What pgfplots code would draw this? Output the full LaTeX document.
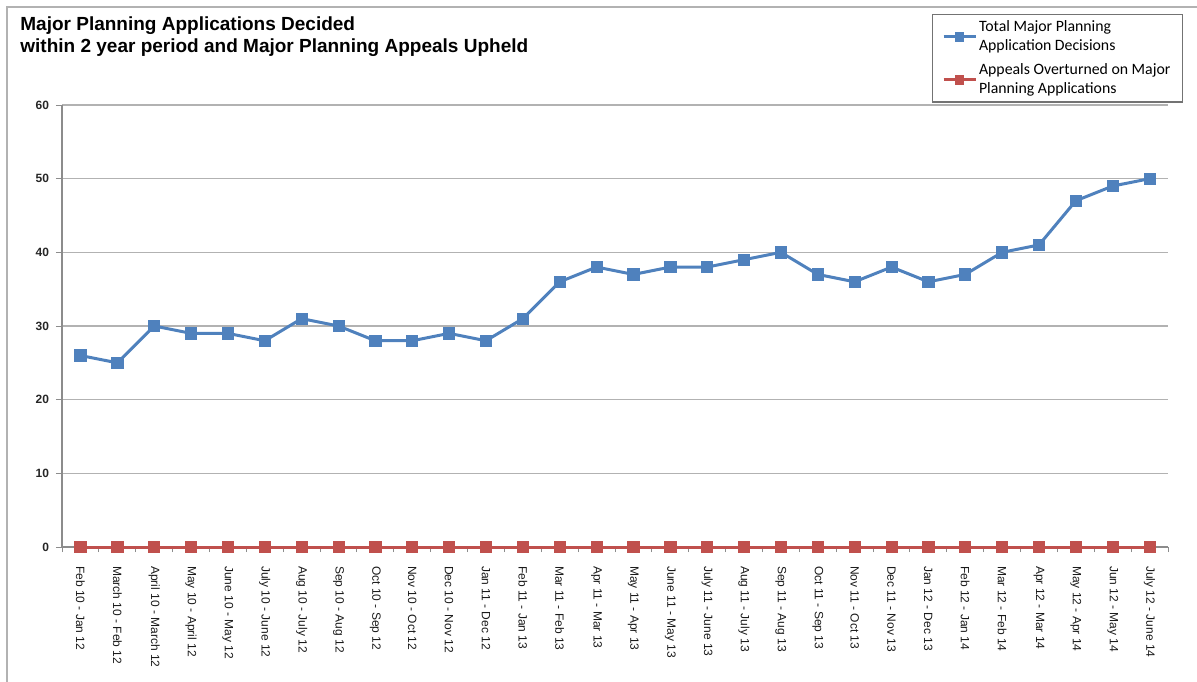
\documentclass[border=0pt]{standalone}
\usepackage{pgfplots}
\pgfplotsset{compat=1.18}
\usepackage{fontspec}
\setmainfont{Liberation Sans}
\newfontfamily\legfont{Carlito}
\definecolor{xlblue}{HTML}{4F81BD}
\definecolor{xlred}{HTML}{C0504D}
\begin{document}
\begin{tikzpicture}
\path[use as bounding box] (0pt,0pt) rectangle (598.5pt,340.5pt);
\draw[black!30, line width=0.9pt] (3.5pt,-5pt) rectangle (610pt,337pt);
\node[anchor=north west, align=left, font=\bfseries\fontsize{9.5}{11}\selectfont, inner sep=0pt] at (10pt,332.5pt)
  {Major Planning Applications Decided\\within 2 year period and Major Planning Appeals Upheld};
\begin{axis}[
  at={(31pt,67pt)}, anchor=south west,
  scale only axis, width=553pt, height=221pt,
  xmin=-0.5, xmax=29.5, ymin=0, ymax=60,
  clip=false,
  axis lines*=left,
  axis line style={black!45, line width=0.6pt},
  ytick={0,10,...,60},
  ymajorgrids, grid style={black!30, line width=0.7pt},
  tick align=outside, tick pos=left,
  major tick length=3pt, minor tick length=2.5pt,
  tick style={black!45, line width=0.5pt},
  xtick={0,...,29},
  major x tick style={draw=none},
  minor xtick={-0.5,0.5,...,29.5},
  xticklabels={Feb 10 - Jan 12, March 10 - Feb 12, April 10 - March 12, May 10 - April 12, June 10 - May 12, July 10 - June 12, Aug 10 - July 12, Sep 10 - Aug 12, Oct 10 - Sep 12, Nov 10 - Oct 12, Dec 10 - Nov 12, Jan 11 - Dec 12, Feb 11 - Jan 13, Mar 11 - Feb 13, Apr 11 - Mar 13, May 11 - Apr 13, June 11 - May 13, July 11 - June 13, Aug 11 - July 13, Sep 11 - Aug 13, Oct 11 - Sep 13, Nov 11 - Oct 13, Dec 11 - Nov 13, Jan 12 - Dec 13, Feb 12 - Jan 14, Mar 12 - Feb 14, Apr 12 - Mar 14, May 12 - Apr 14, Jun 12 - May 14, July 12 - June 14},
  xticklabel style={font=\fontsize{6}{7}\selectfont, rotate=-90, anchor=west, text=black!90},
  xticklabel shift=3pt,
  yticklabel style={font=\bfseries\fontsize{6}{7}\selectfont, text=black!85},
  /pgf/number format/assume math mode=true,
  legend style={at={(1.0136,1.2055)}, anchor=north east, draw=black!55, line width=0.6pt,
    font=\legfont\fontsize{7.9}{9.5}\selectfont, cells={align=left, anchor=west},
    inner xsep=5pt, inner ysep=0.8pt, row sep=1pt,
    nodes={inner xsep=1pt}},
  legend cell align=left,
  legend image code/.code={\draw[mark repeat=2,mark phase=2,mark size=2.1pt] plot coordinates {(0cm,0cm)(0.28cm,0cm)(0.56cm,0cm)};},
]
\addplot[xlblue, line width=1.5pt, mark=square*, mark size=2.8pt, mark options={solid, line width=0.4pt}] coordinates {
(0,26)(1,25)(2,30)(3,29)(4,29)(5,28)(6,31)(7,30)(8,28)(9,28)(10,29)(11,28)(12,31)(13,36)(14,38)(15,37)(16,38)(17,38)(18,39)(19,40)(20,37)(21,36)(22,38)(23,36)(24,37)(25,40)(26,41)(27,47)(28,49)(29,50)};
\addlegendentry{Total Major Planning\\Application Decisions}
\addplot[xlred, line width=1.5pt, mark=square*, mark size=2.8pt, mark options={solid, line width=0.4pt}] coordinates {
(0,0)(1,0)(2,0)(3,0)(4,0)(5,0)(6,0)(7,0)(8,0)(9,0)(10,0)(11,0)(12,0)(13,0)(14,0)(15,0)(16,0)(17,0)(18,0)(19,0)(20,0)(21,0)(22,0)(23,0)(24,0)(25,0)(26,0)(27,0)(28,0)(29,0)};
\addlegendentry{Appeals Overturned on Major\\Planning Applications}
\end{axis}
\end{tikzpicture}
\end{document}
